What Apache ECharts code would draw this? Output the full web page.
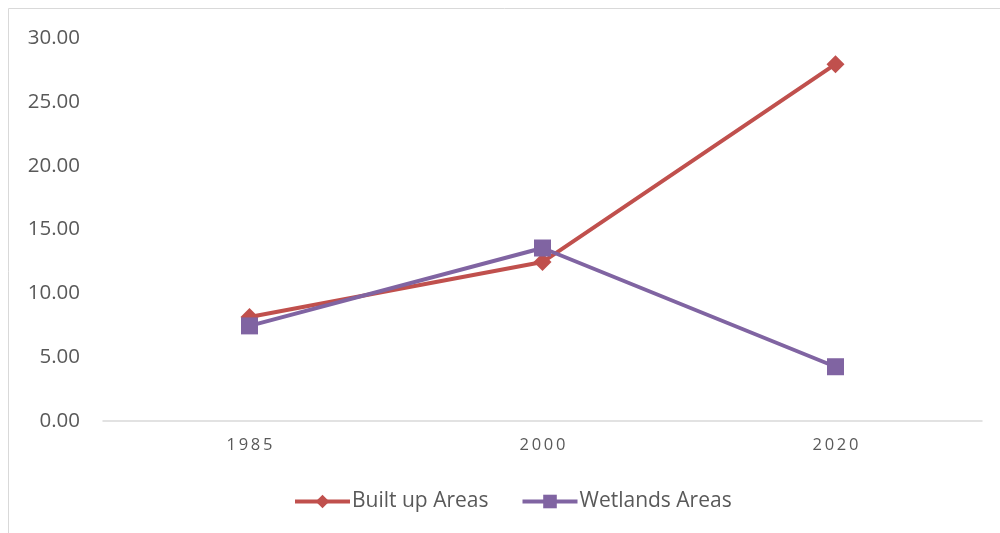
<!DOCTYPE html>
<html>
<head>
<meta charset="utf-8">
<script src="https://cdn.jsdelivr.net/npm/echarts@6/dist/echarts.min.js"></script>
<style>
  html, body { margin: 0; padding: 0; background: #fff; }
  #chart { width: 1000px; height: 533px; }
</style>
</head>
<body>
<div id="chart"></div>
<script>
// data
var years = ['1985', '2000', '2020']
var builtUp = [8.15, 12.45, 27.95]
var wetlands = [7.45, 13.55, 4.25]
var yTicks = [0, 5, 10, 15, 20, 25, 30]

var font = "'Open Sans', 'Liberation Sans', sans-serif"

var chart = echarts.init(document.getElementById('chart'))
chart.setOption({
  animation: false,
  textStyle: { fontFamily: font },
  graphic: [{
    type: 'rect',
    shape: { x: 8.5, y: 8.5, width: 1100, height: 600 },
    style: { fill: 'none', stroke: '#d9d9d9', lineWidth: 1 },
    silent: true
  }],
  grid: { left: 103, right: 18, top: 38, bottom: 112 },
  legend: {
    bottom: 16,
    left: 288,
    itemWidth: 55,
    itemHeight: 17,
    itemGap: 32,
    lineStyle: { width: 4 },
    textStyle: { fontSize: 21, color: '#595959', fontFamily: font, padding: [0, 0, 0, -3] },
    data: ['Built up Areas', 'Wetlands Areas']
  },
  xAxis: {
    type: 'category',
    data: years,
    boundaryGap: true,
    axisLine: { lineStyle: { color: '#d9d9d9', width: 1.5 } },
    axisTick: { show: false },
    axisLabel: {
      color: '#595959',
      fontSize: 16.5,
      margin: 16,
      formatter: function (v) { return v.split('').join('\u2009') }
    }
  },
  yAxis: {
    type: 'value',
    min: yTicks[0],
    max: yTicks[yTicks.length - 1],
    interval: 5,
    splitLine: { show: false },
    axisLine: { show: false },
    axisTick: { show: false },
    axisLabel: {
      color: '#595959',
      fontSize: 20.5,
      margin: 23,
      formatter: function (v) { return v.toFixed(2) }
    }
  },
  series: [
    {
      name: 'Built up Areas',
      type: 'line',
      data: builtUp,
      symbol: 'diamond',
      symbolSize: 18,
      lineStyle: { color: '#C0504D', width: 4 },
      itemStyle: { color: '#C0504D' }
    },
    {
      name: 'Wetlands Areas',
      type: 'line',
      data: wetlands,
      symbol: 'rect',
      symbolSize: 17,
      lineStyle: { color: '#8064A2', width: 4 },
      itemStyle: { color: '#8064A2' }
    }
  ]
})
</script>
</body>
</html>
